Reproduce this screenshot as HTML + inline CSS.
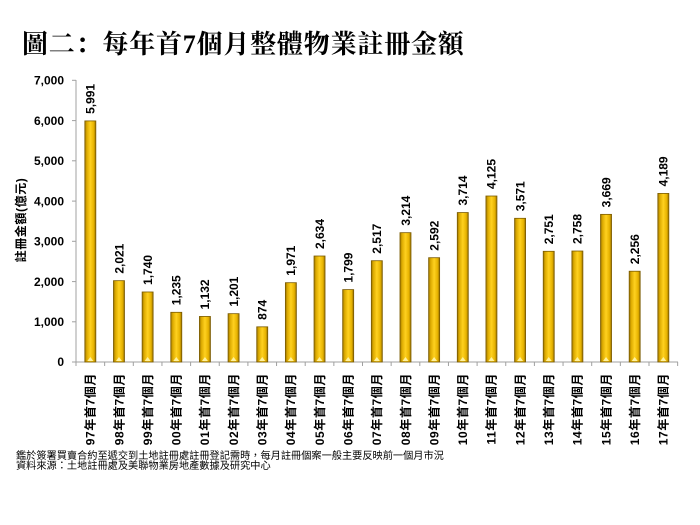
<!DOCTYPE html>
<html><head><meta charset="utf-8"><style>
html,body{margin:0;padding:0;background:#fff;}
body{width:700px;height:525px;overflow:hidden;position:relative;}
</style></head><body>
<svg width="700" height="525" viewBox="0 0 700 525" xmlns="http://www.w3.org/2000/svg" style="position:absolute;left:0;top:0">
<defs>
<linearGradient id="g" x1="0" y1="0" x2="1" y2="0">
<stop offset="0" stop-color="#9a7400"/>
<stop offset="0.18" stop-color="#dcaa00"/>
<stop offset="0.5" stop-color="#ffd11f"/>
<stop offset="0.82" stop-color="#e6b200"/>
<stop offset="1" stop-color="#946e00"/>
</linearGradient>
<g id="hl"><polygon points="-3,361 3,361 0,357" fill="#fff2a0"/></g>
</defs>
<text x="22" y="53" font-family="'Liberation Serif','Noto Serif CJK SC',serif" font-size="26" font-weight="bold" letter-spacing="0.8" fill="#000">圖二：每年首7個月整體物業註冊金額</text>
<!-- axes -->
<line x1="76" y1="80" x2="76" y2="362" stroke="#a0a0a0" stroke-width="1"/>
<line x1="76" y1="362" x2="678" y2="362" stroke="#a0a0a0" stroke-width="1"/>
<g stroke="#a0a0a0" stroke-width="1">
<line x1="72" y1="80.3" x2="76" y2="80.3"/>
<line x1="72" y1="120.6" x2="76" y2="120.6"/>
<line x1="72" y1="160.8" x2="76" y2="160.8"/>
<line x1="72" y1="201.1" x2="76" y2="201.1"/>
<line x1="72" y1="241.3" x2="76" y2="241.3"/>
<line x1="72" y1="281.6" x2="76" y2="281.6"/>
<line x1="72" y1="321.8" x2="76" y2="321.8"/>
<line x1="72" y1="362" x2="76" y2="362"/>
<line x1="76" y1="362" x2="76" y2="366"/>
<line x1="104.65" y1="362" x2="104.65" y2="366"/>
<line x1="133.3" y1="362" x2="133.3" y2="366"/>
<line x1="161.95" y1="362" x2="161.95" y2="366"/>
<line x1="190.6" y1="362" x2="190.6" y2="366"/>
<line x1="219.25" y1="362" x2="219.25" y2="366"/>
<line x1="247.9" y1="362" x2="247.9" y2="366"/>
<line x1="276.55" y1="362" x2="276.55" y2="366"/>
<line x1="305.2" y1="362" x2="305.2" y2="366"/>
<line x1="333.85" y1="362" x2="333.85" y2="366"/>
<line x1="362.5" y1="362" x2="362.5" y2="366"/>
<line x1="391.15" y1="362" x2="391.15" y2="366"/>
<line x1="419.8" y1="362" x2="419.8" y2="366"/>
<line x1="448.45" y1="362" x2="448.45" y2="366"/>
<line x1="477.1" y1="362" x2="477.1" y2="366"/>
<line x1="505.75" y1="362" x2="505.75" y2="366"/>
<line x1="534.4" y1="362" x2="534.4" y2="366"/>
<line x1="563.05" y1="362" x2="563.05" y2="366"/>
<line x1="591.7" y1="362" x2="591.7" y2="366"/>
<line x1="620.35" y1="362" x2="620.35" y2="366"/>
<line x1="649" y1="362" x2="649" y2="366"/>
<line x1="677.65" y1="362" x2="677.65" y2="366"/>
</g>
<g font-family="'Liberation Sans',sans-serif" font-size="12" font-weight="bold" fill="#000" text-anchor="end">
<text x="64" y="84.5">7,000</text>
<text x="64" y="124.8">6,000</text>
<text x="64" y="165">5,000</text>
<text x="64" y="205.3">4,000</text>
<text x="64" y="245.5">3,000</text>
<text x="64" y="285.8">2,000</text>
<text x="64" y="326">1,000</text>
<text x="64" y="366.2">0</text>
</g>
<text transform="translate(25,220) rotate(-90)" text-anchor="middle" font-family="'Liberation Sans','Noto Sans CJK TC',sans-serif" font-size="12" font-weight="bold" letter-spacing="0.6" fill="#000">註冊金額(億元)</text>

<g font-family="'Liberation Sans','Noto Sans CJK TC',sans-serif" font-weight="bold" fill="#000">
<g transform="translate(90.33,0)"><rect x="-5.5" y="120.92" width="11" height="241.08" fill="url(#g)" stroke="#7a5a00" stroke-width="0.8"/><use href="#hl"/><text transform="translate(4.3,113.92) rotate(-90)" font-size="12">5,991</text><text transform="translate(4.3,373) rotate(-90)" text-anchor="end" font-size="12" letter-spacing="0.6">97年首7個月</text></g>
<g transform="translate(118.98,0)"><rect x="-5.5" y="280.67" width="11" height="81.33" fill="url(#g)" stroke="#7a5a00" stroke-width="0.8"/><use href="#hl"/><text transform="translate(4.3,273.67) rotate(-90)" font-size="12">2,021</text><text transform="translate(4.3,373) rotate(-90)" text-anchor="end" font-size="12" letter-spacing="0.6">98年首7個月</text></g>
<g transform="translate(147.63,0)"><rect x="-5.5" y="291.98" width="11" height="70.02" fill="url(#g)" stroke="#7a5a00" stroke-width="0.8"/><use href="#hl"/><text transform="translate(4.3,284.98) rotate(-90)" font-size="12">1,740</text><text transform="translate(4.3,373) rotate(-90)" text-anchor="end" font-size="12" letter-spacing="0.6">99年首7個月</text></g>
<g transform="translate(176.28,0)"><rect x="-5.5" y="312.3" width="11" height="49.7" fill="url(#g)" stroke="#7a5a00" stroke-width="0.8"/><use href="#hl"/><text transform="translate(4.3,305.3) rotate(-90)" font-size="12">1,235</text><text transform="translate(4.3,373) rotate(-90)" text-anchor="end" font-size="12" letter-spacing="0.6">00年首7個月</text></g>
<g transform="translate(204.93,0)"><rect x="-5.5" y="316.45" width="11" height="45.55" fill="url(#g)" stroke="#7a5a00" stroke-width="0.8"/><use href="#hl"/><text transform="translate(4.3,309.45) rotate(-90)" font-size="12">1,132</text><text transform="translate(4.3,373) rotate(-90)" text-anchor="end" font-size="12" letter-spacing="0.6">01年首7個月</text></g>
<g transform="translate(233.58,0)"><rect x="-5.5" y="313.67" width="11" height="48.33" fill="url(#g)" stroke="#7a5a00" stroke-width="0.8"/><use href="#hl"/><text transform="translate(4.3,306.67) rotate(-90)" font-size="12">1,201</text><text transform="translate(4.3,373) rotate(-90)" text-anchor="end" font-size="12" letter-spacing="0.6">02年首7個月</text></g>
<g transform="translate(262.23,0)"><rect x="-5.5" y="326.83" width="11" height="35.17" fill="url(#g)" stroke="#7a5a00" stroke-width="0.8"/><use href="#hl"/><text transform="translate(4.3,319.83) rotate(-90)" font-size="12">874</text><text transform="translate(4.3,373) rotate(-90)" text-anchor="end" font-size="12" letter-spacing="0.6">03年首7個月</text></g>
<g transform="translate(290.88,0)"><rect x="-5.5" y="282.69" width="11" height="79.31" fill="url(#g)" stroke="#7a5a00" stroke-width="0.8"/><use href="#hl"/><text transform="translate(4.3,275.69) rotate(-90)" font-size="12">1,971</text><text transform="translate(4.3,373) rotate(-90)" text-anchor="end" font-size="12" letter-spacing="0.6">04年首7個月</text></g>
<g transform="translate(319.53,0)"><rect x="-5.5" y="256.01" width="11" height="105.99" fill="url(#g)" stroke="#7a5a00" stroke-width="0.8"/><use href="#hl"/><text transform="translate(4.3,249.01) rotate(-90)" font-size="12">2,634</text><text transform="translate(4.3,373) rotate(-90)" text-anchor="end" font-size="12" letter-spacing="0.6">05年首7個月</text></g>
<g transform="translate(348.18,0)"><rect x="-5.5" y="289.61" width="11" height="72.39" fill="url(#g)" stroke="#7a5a00" stroke-width="0.8"/><use href="#hl"/><text transform="translate(4.3,282.61) rotate(-90)" font-size="12">1,799</text><text transform="translate(4.3,373) rotate(-90)" text-anchor="end" font-size="12" letter-spacing="0.6">06年首7個月</text></g>
<g transform="translate(376.83,0)"><rect x="-5.5" y="260.72" width="11" height="101.28" fill="url(#g)" stroke="#7a5a00" stroke-width="0.8"/><use href="#hl"/><text transform="translate(4.3,253.72) rotate(-90)" font-size="12">2,517</text><text transform="translate(4.3,373) rotate(-90)" text-anchor="end" font-size="12" letter-spacing="0.6">07年首7個月</text></g>
<g transform="translate(405.48,0)"><rect x="-5.5" y="232.67" width="11" height="129.33" fill="url(#g)" stroke="#7a5a00" stroke-width="0.8"/><use href="#hl"/><text transform="translate(4.3,225.67) rotate(-90)" font-size="12">3,214</text><text transform="translate(4.3,373) rotate(-90)" text-anchor="end" font-size="12" letter-spacing="0.6">08年首7個月</text></g>
<g transform="translate(434.13,0)"><rect x="-5.5" y="257.7" width="11" height="104.3" fill="url(#g)" stroke="#7a5a00" stroke-width="0.8"/><use href="#hl"/><text transform="translate(4.3,250.7) rotate(-90)" font-size="12">2,592</text><text transform="translate(4.3,373) rotate(-90)" text-anchor="end" font-size="12" letter-spacing="0.6">09年首7個月</text></g>
<g transform="translate(462.78,0)"><rect x="-5.5" y="212.55" width="11" height="149.45" fill="url(#g)" stroke="#7a5a00" stroke-width="0.8"/><use href="#hl"/><text transform="translate(4.3,205.55) rotate(-90)" font-size="12">3,714</text><text transform="translate(4.3,373) rotate(-90)" text-anchor="end" font-size="12" letter-spacing="0.6">10年首7個月</text></g>
<g transform="translate(491.43,0)"><rect x="-5.5" y="196.01" width="11" height="165.99" fill="url(#g)" stroke="#7a5a00" stroke-width="0.8"/><use href="#hl"/><text transform="translate(4.3,189.01) rotate(-90)" font-size="12">4,125</text><text transform="translate(4.3,373) rotate(-90)" text-anchor="end" font-size="12" letter-spacing="0.6">11年首7個月</text></g>
<g transform="translate(520.08,0)"><rect x="-5.5" y="218.3" width="11" height="143.7" fill="url(#g)" stroke="#7a5a00" stroke-width="0.8"/><use href="#hl"/><text transform="translate(4.3,211.3) rotate(-90)" font-size="12">3,571</text><text transform="translate(4.3,373) rotate(-90)" text-anchor="end" font-size="12" letter-spacing="0.6">12年首7個月</text></g>
<g transform="translate(548.73,0)"><rect x="-5.5" y="251.3" width="11" height="110.7" fill="url(#g)" stroke="#7a5a00" stroke-width="0.8"/><use href="#hl"/><text transform="translate(4.3,244.3) rotate(-90)" font-size="12">2,751</text><text transform="translate(4.3,373) rotate(-90)" text-anchor="end" font-size="12" letter-spacing="0.6">13年首7個月</text></g>
<g transform="translate(577.38,0)"><rect x="-5.5" y="251.02" width="11" height="110.98" fill="url(#g)" stroke="#7a5a00" stroke-width="0.8"/><use href="#hl"/><text transform="translate(4.3,244.02) rotate(-90)" font-size="12">2,758</text><text transform="translate(4.3,373) rotate(-90)" text-anchor="end" font-size="12" letter-spacing="0.6">14年首7個月</text></g>
<g transform="translate(606.03,0)"><rect x="-5.5" y="214.36" width="11" height="147.64" fill="url(#g)" stroke="#7a5a00" stroke-width="0.8"/><use href="#hl"/><text transform="translate(4.3,207.36) rotate(-90)" font-size="12">3,669</text><text transform="translate(4.3,373) rotate(-90)" text-anchor="end" font-size="12" letter-spacing="0.6">15年首7個月</text></g>
<g transform="translate(634.68,0)"><rect x="-5.5" y="271.22" width="11" height="90.78" fill="url(#g)" stroke="#7a5a00" stroke-width="0.8"/><use href="#hl"/><text transform="translate(4.3,264.22) rotate(-90)" font-size="12">2,256</text><text transform="translate(4.3,373) rotate(-90)" text-anchor="end" font-size="12" letter-spacing="0.6">16年首7個月</text></g>
<g transform="translate(663.33,0)"><rect x="-5.5" y="193.43" width="11" height="168.57" fill="url(#g)" stroke="#7a5a00" stroke-width="0.8"/><use href="#hl"/><text transform="translate(4.3,186.43) rotate(-90)" font-size="12">4,189</text><text transform="translate(4.3,373) rotate(-90)" text-anchor="end" font-size="12" letter-spacing="0.6">17年首7個月</text></g>
</g>

<text x="16" y="459" font-family="'Liberation Sans','Noto Sans CJK TC',sans-serif" font-size="10.2" fill="#000">鑑於簽署買賣合約至遞交到土地註冊處註冊登記需時，每月註冊個案一般主要反映前一個月市況</text>
<text x="16" y="469" font-family="'Liberation Sans','Noto Sans CJK TC',sans-serif" font-size="10.2" fill="#000">資料來源：土地註冊處及美聯物業房地產數據及研究中心</text>
</svg>
</body></html>
